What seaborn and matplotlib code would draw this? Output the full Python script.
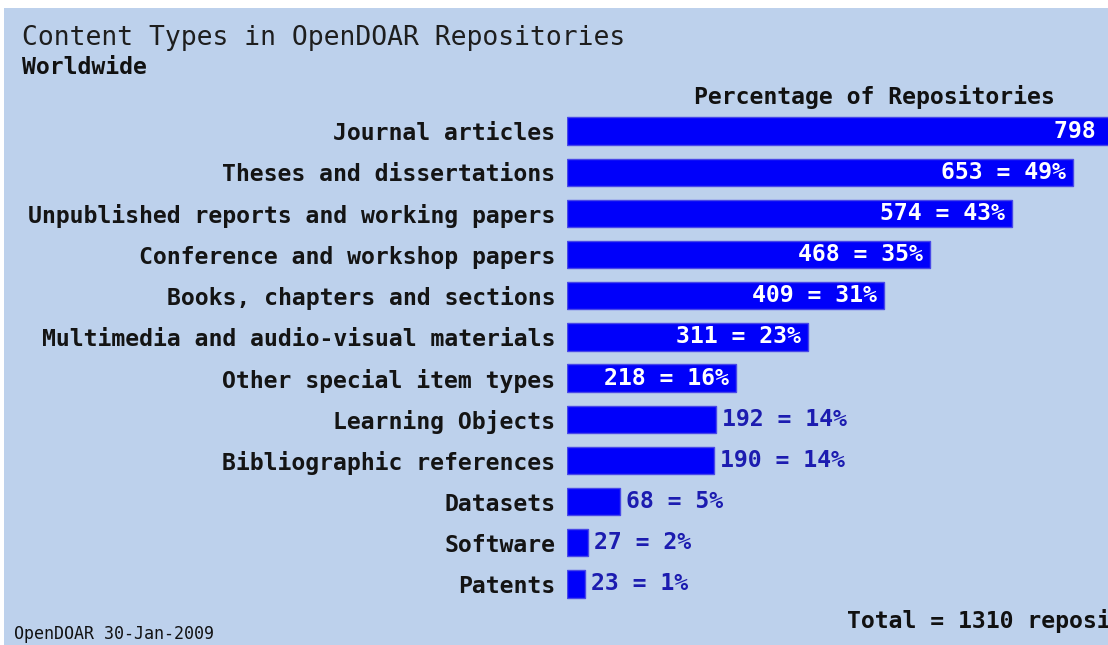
import matplotlib
matplotlib.use("Agg")
import matplotlib.pyplot as plt
from matplotlib.patches import Rectangle
import seaborn as sns
import pandas as pd

categories = [
    "Journal articles",
    "Theses and dissertations",
    "Unpublished reports and working papers",
    "Conference and workshop papers",
    "Books, chapters and sections",
    "Multimedia and audio-visual materials",
    "Other special item types",
    "Learning Objects",
    "Bibliographic references",
    "Datasets",
    "Software",
    "Patents",
]
counts = [798, 653, 574, 468, 409, 311, 218, 192, 190, 68, 27, 23]
percents = [60, 49, 43, 35, 31, 23, 16, 14, 14, 5, 2, 1]
total = 1310

W, H = 1108, 645
BG = "#bdd1ec"
MONO = "DejaVu Sans Mono"

sns.set_theme(style="white")
plt.rcParams["font.family"] = [MONO]

fig = plt.figure(figsize=(W / 100, H / 100), dpi=100, facecolor="white")
fig.patches.append(Rectangle((4 / W, 0), 1 - 4 / W, 1 - 8 / H, transform=fig.transFigure,
                             facecolor=BG, edgecolor="none", zorder=-10))

def fx(x):
    return x / W

def fy(y):
    return 1 - y / H

x0 = 567
scale = 0.775  # px per unit
top, bottom = 110.5, 604.5
ax = fig.add_axes([fx(x0), fy(bottom), 1 - fx(x0), (bottom - top) / H])
ax.set_facecolor("none")

df = pd.DataFrame({"cat": categories, "n": counts})
sns.barplot(data=df, x="n", y="cat", orient="h", color="#0000fa", saturation=1,
            edgecolor="#4848e8", linewidth=1.0, width=0.66, ax=ax)

ax.set_xlim(0, (W - x0) / scale)
ax.set_ylim(len(categories) - 0.5, -0.5)
for s in ax.spines.values():
    s.set_visible(False)
ax.set_xlabel("")
ax.set_ylabel("")
ax.set_xticks([])
ax.tick_params(axis="y", length=0, pad=8.6)
ax.set_yticks(range(len(categories)))
ax.set_yticklabels(categories, fontsize=16.7, fontweight="bold", fontfamily=MONO, color="#141414")

for i, (n, p) in enumerate(zip(counts, percents)):
    label = f"{n} = {p}%"
    if n >= 200:
        ax.annotate(label, xy=(n, i), xytext=(-7, 0), textcoords="offset pixels",
                    ha="right", va="center", color="white", fontsize=16.7,
                    fontweight="bold", fontfamily=MONO, annotation_clip=False, clip_on=False)
    else:
        ax.annotate(label, xy=(n, i), xytext=(6, 0), textcoords="offset pixels",
                    ha="left", va="center", color="#1c1cb0", fontsize=16.7,
                    fontweight="bold", fontfamily=MONO, annotation_clip=False)

fig.text(fx(22), fy(38), "Content Types in OpenDOAR Repositories", fontsize=19,
         fontfamily=MONO, color="#1e1e1e", ha="left", va="center")
fig.text(fx(22), fy(67), "Worldwide", fontsize=16.7, fontweight="bold",
         fontfamily=MONO, color="#111111", ha="left", va="center")
fig.text(fx(874), fy(97), "Percentage of Repositories", fontsize=16.7, fontweight="bold",
         fontfamily=MONO, color="#111111", ha="center", va="center")
fig.text(fx(847), fy(621), f"Total = {total} repositories", fontsize=16.7, fontweight="bold",
         fontfamily=MONO, color="#111111", ha="left", va="center")
fig.text(fx(14), fy(634), "OpenDOAR 30-Jan-2009", fontsize=12,
         fontfamily=MONO, color="#111111", ha="left", va="center")

fig.savefig("out.png", dpi=100, facecolor="white")
